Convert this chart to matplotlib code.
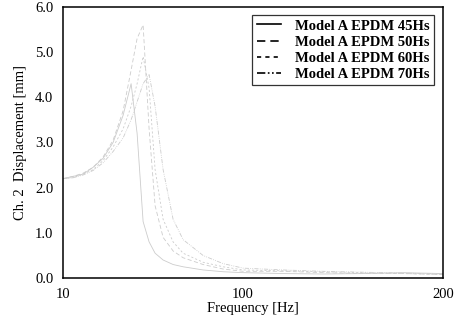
import matplotlib.pyplot as plt

# frequency points [Hz]
freq = [10, 15, 20, 25, 30, 35, 40, 44, 47, 50, 53, 56, 60, 65, 70, 80, 90, 100,
        120, 140, 160, 180, 200]

# displacement [mm] for each rubber hardness (estimated)
disp_45 = [2.2, 2.25, 2.3, 2.45, 2.65, 3.0, 3.6, 4.3, 3.2, 1.25, 0.8, 0.55, 0.4,
           0.3, 0.25, 0.18, 0.14, 0.12, 0.1, 0.09, 0.1, 0.12, 0.1]
disp_50 = [2.2, 2.25, 2.32, 2.45, 2.68, 3.05, 3.7, 4.6, 5.3, 5.6, 3.3, 1.6, 0.9,
           0.6, 0.45, 0.3, 0.2, 0.15, 0.15, 0.12, 0.1, 0.1, 0.08]
disp_60 = [2.2, 2.22, 2.3, 2.4, 2.6, 2.9, 3.3, 3.8, 4.3, 4.9, 4.2, 2.4, 1.3,
           0.8, 0.55, 0.35, 0.25, 0.18, 0.16, 0.14, 0.12, 0.1, 0.08]
disp_70 = [2.2, 2.22, 2.28, 2.38, 2.55, 2.8, 3.1, 3.5, 3.9, 4.3, 4.5, 3.8, 2.4,
           1.3, 0.85, 0.5, 0.32, 0.22, 0.18, 0.15, 0.13, 0.11, 0.09]

labels = ['Model A EPDM 45Hs', 'Model A EPDM 50Hs',
          'Model A EPDM 60Hs', 'Model A EPDM 70Hs']
styles = ['-', (0, (5, 3)), (0, (2.5, 2.5)), (0, (5, 1.5, 1, 1.5, 1, 1.5))]

plt.rcParams['font.family'] = ['Liberation Serif', 'DejaVu Serif']

fig = plt.figure(figsize=(4.54, 3.26), dpi=100)
ax = fig.add_axes([0.139, 0.147, 0.837, 0.832])

for d, lab, ls in zip([disp_45, disp_50, disp_60, disp_70], labels, styles):
    # the scanned curves are very faint, so draw them light
    ax.plot(freq, d, color='0.8', lw=0.6, linestyle=ls, label=lab)

ax.set_xlim(10, 200)
ax.set_ylim(0, 6)
ax.set_xticks([10, 100, 200])
ax.set_yticks([0, 1, 2, 3, 4, 5, 6])
ax.set_yticklabels(['0.0', '1.0', '2.0', '3.0', '4.0', '5.0', '6.0'])
ax.tick_params(length=0, labelsize=10.5, pad=7)
for s in ax.spines.values():
    s.set_linewidth(1.1)

ax.set_xlabel('Frequency [Hz]', fontsize=10.5, labelpad=1)
ax.set_ylabel('Ch. 2  Displacement [mm]', fontsize=10.5, labelpad=6)

leg = ax.legend(loc='upper right', frameon=True, fancybox=False,
                edgecolor='black', handlelength=1.7, handletextpad=0.9,
                borderpad=0.3, labelspacing=0.2, borderaxespad=0.0,
                bbox_to_anchor=(0.975, 0.97),
                prop={'weight': 'bold', 'size': 10.5})
leg.get_frame().set_linewidth(0.9)
for h in leg.get_lines():
    h.set_color('black')
    h.set_linewidth(1.2)

plt.savefig('out.png', dpi=100)
